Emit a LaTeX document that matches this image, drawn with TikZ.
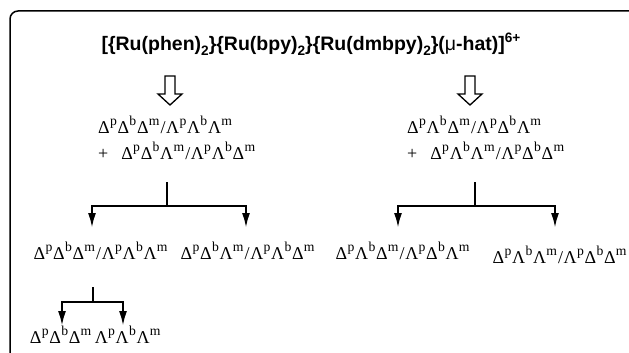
\documentclass[tikz,border=0pt]{standalone}
\usepackage{graphicx}
\usepackage{fontspec}
\setmainfont{Liberation Serif}
\newfontfamily\titlefont{Liberation Sans}
\usetikzlibrary{arrows.meta}
\newcommand\gs[2]{#1\kern0.3pt\raisebox{0.40em}{\scalebox{0.76}{#2}}\kern0.7pt}
\newcommand\tsub[1]{\raisebox{-0.24em}{\scalebox{0.7}{#1}}}
\newcommand\tsup[1]{\raisebox{0.45em}{\scalebox{0.7}{#1}}}
\newcommand\slsh{\kern0.4pt/\kern0.6pt}
\tikzset{
  frame/.style={line width=1.5pt, rounded corners=8pt},
  titletext/.style={inner sep=0pt, font=\titlefont\bfseries\fontsize{19.5}{22}\selectfont},
  greek/.style={inner sep=0pt, font=\fontsize{18}{20}\selectfont},
  bar/.style={line width=2pt},
  branch/.style={line width=2.2pt, -{Latex[length=15pt,width=8pt]}},
  hollowarrow/.pic={\draw[line width=1.3pt, fill=white, line join=miter]
     (-5,0) -- (-5,18) -- (-12,18) -- (0,29) -- (12,18) -- (5,18) -- (5,0) -- cycle;}
}
\begin{document}
\begin{tikzpicture}[x=1pt,y=-1pt]
\useasboundingbox (0,0) rectangle (629,353);
% frame
\draw[frame] (10,360) -- (10,11) -- (640,11);
% title
\node[titletext, anchor=base] (title) at (311,51) {[\{Ru(phen)\tsub{2}\}\{Ru(bpy)\tsub{2}\}\{Ru(dmbpy)\tsub{2}\}({\mdseries μ}-hat)]\tsup{6+}};
% hollow arrows
\pic at (170,76) {hollowarrow};
\pic at (470,76) {hollowarrow};
% left branch texts
\node[greek, anchor=base west] (L1) at (98,133) {\gs{Δ}{p}\gs{Δ}{b}\gs{Δ}{m}\slsh\gs{Λ}{p}\gs{Λ}{b}\gs{Λ}{m}};
\node[greek, anchor=base west] (L2) at (98,159) {+\hspace{13pt}\gs{Δ}{p}\gs{Δ}{b}\gs{Λ}{m}\slsh\gs{Λ}{p}\gs{Λ}{b}\gs{Δ}{m}};
% right branch texts
\node[greek, anchor=base west] (R1) at (407,133) {\gs{Δ}{p}\gs{Λ}{b}\gs{Δ}{m}\slsh\gs{Λ}{p}\gs{Δ}{b}\gs{Λ}{m}};
\node[greek, anchor=base west] (R2) at (407,159) {+\hspace{13pt}\gs{Δ}{p}\gs{Λ}{b}\gs{Λ}{m}\slsh\gs{Λ}{p}\gs{Δ}{b}\gs{Δ}{m}};
% row
\node[greek, anchor=base] (A) at (101,259) {\gs{Δ}{p}\gs{Δ}{b}\gs{Δ}{m}\slsh\gs{Λ}{p}\gs{Λ}{b}\gs{Λ}{m}};
\node[greek, anchor=base] (B) at (248,259) {\gs{Δ}{p}\gs{Δ}{b}\gs{Λ}{m}\slsh\gs{Λ}{p}\gs{Λ}{b}\gs{Δ}{m}};
\node[greek, anchor=base] (C) at (403,259) {\gs{Δ}{p}\gs{Λ}{b}\gs{Δ}{m}\slsh\gs{Λ}{p}\gs{Δ}{b}\gs{Λ}{m}};
\node[greek, anchor=base] (D) at (560,263) {\gs{Δ}{p}\gs{Λ}{b}\gs{Λ}{m}\slsh\gs{Λ}{p}\gs{Δ}{b}\gs{Δ}{m}};
% bottom
\node[greek, anchor=base] (E) at (61,343) {\gs{Δ}{p}\gs{Δ}{b}\gs{Δ}{m}};
\node[greek, anchor=base] (F) at (128,343) {\gs{Λ}{p}\gs{Λ}{b}\gs{Λ}{m}};
% left connectors
\coordinate (Lt) at (167,182);
\coordinate (Lj) at (167,206);
\coordinate (La) at (92,228);
\coordinate (Lb) at (246,228);
\draw[bar] (Lt) -- (Lj);
\draw[branch] (Lj) -| (La);
\draw[branch] (Lj) -| (Lb);
% right connectors
\coordinate (Rt) at (475,182);
\coordinate (Rj) at (475,206);
\coordinate (Ra) at (398,228);
\coordinate (Rb) at (555,228);
\draw[bar] (Rt) -- (Rj);
\draw[branch] (Rj) -| (Ra);
\draw[branch] (Rj) -| (Rb);
% small connectors
\coordinate (St) at (93,287);
\coordinate (Sj) at (93,302);
\coordinate (Sa) at (62,326);
\coordinate (Sb) at (123,326);
\draw[bar] (St) -- (Sj);
\draw[branch] (Sj) -| (Sa);
\draw[branch] (Sj) -| (Sb);
\end{tikzpicture}
\end{document}
